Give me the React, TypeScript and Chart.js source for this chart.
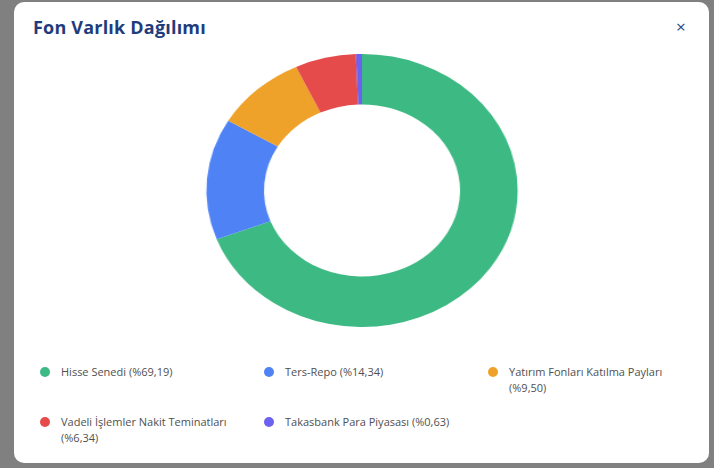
import React, { useEffect, useRef } from "react";
import { Chart, registerables } from "chart.js";

Chart.register(...registerables);

const title = "Fon Varlık Dağılımı";
const labels = [
  "Hisse Senedi",
  "Ters-Repo",
  "Yatırım Fonları Katılma Payları",
  "Vadeli İşlemler Nakit Teminatları",
  "Takasbank Para Piyasası",
];
const values = [69.19, 14.34, 9.5, 6.34, 0.63];
const colors = ["#3DB983", "#4F82F5", "#EEA22A", "#E64B4B", "#6C62F0"];

const fmt = (v: number) => "%" + v.toFixed(2).replace(".", ",");

export default function App() {
  const ref = useRef<HTMLCanvasElement | null>(null);
  useEffect(() => {
    if (!ref.current) return;
    const chart = new Chart(ref.current, {
      type: "doughnut",
      data: {
        labels,
        datasets: [
          {
            data: values,
            backgroundColor: colors,
            borderWidth: 0,
            hoverOffset: 0,
          },
        ],
      },
      options: {
        animation: false,
        responsive: true,
        maintainAspectRatio: false,
        cutout: "63%",
        layout: { padding: 0 },
        plugins: { legend: { display: false }, tooltip: { enabled: false } },
      },
    });
    return () => chart.destroy();
  }, []);

  return (
    <div
      style={{
        position: "fixed",
        inset: 0,
        background: "#808080",
        fontFamily: "'Open Sans', sans-serif",
      }}
    >
      <div
        style={{
          position: "absolute",
          left: 14,
          top: 2,
          width: 695,
          height: 461,
          background: "#ffffff",
          borderRadius: 10,
          overflow: "hidden",
        }}
      >
        <div
          style={{
            position: "absolute",
            left: 19,
            top: 13,
            fontSize: 18,
            fontWeight: 700,
            color: "#1E3C7C",
            lineHeight: "24px",
            letterSpacing: "0.2px",
          }}
        >
          {title}
        </div>
        <div
          style={{
            position: "absolute",
            left: 662,
            top: 13,
            fontSize: 17,
            color: "#2A4684",
            lineHeight: "24px",
          }}
        >
          ×
        </div>
        <div
          style={{
            position: "absolute",
            left: 348 - 160,
            top: 52,
            width: 320,
            height: 273,
            transform: "scaleX(1.14)",
            transformOrigin: "center center",
          }}
        >
          <canvas ref={ref} />
        </div>
        <div
          style={{
            position: "absolute",
            left: 26,
            top: 362,
            display: "grid",
            gridTemplateColumns: "repeat(3, 224px)",
            rowGap: 18,
          }}
        >
          {labels.map((l, i) => (
            <div key={l} style={{ display: "flex", alignItems: "flex-start", paddingRight: 26 }}>
              <span
                style={{
                  width: 10,
                  height: 10,
                  borderRadius: "50%",
                  background: colors[i],
                  marginTop: 3,
                  marginRight: 11,
                  flex: "0 0 auto",
                }}
              />
              <span style={{ fontSize: 11, lineHeight: "16px", color: "#505050" }}>
                {l} ({fmt(values[i])})
              </span>
            </div>
          ))}
        </div>
      </div>
    </div>
  );
}
